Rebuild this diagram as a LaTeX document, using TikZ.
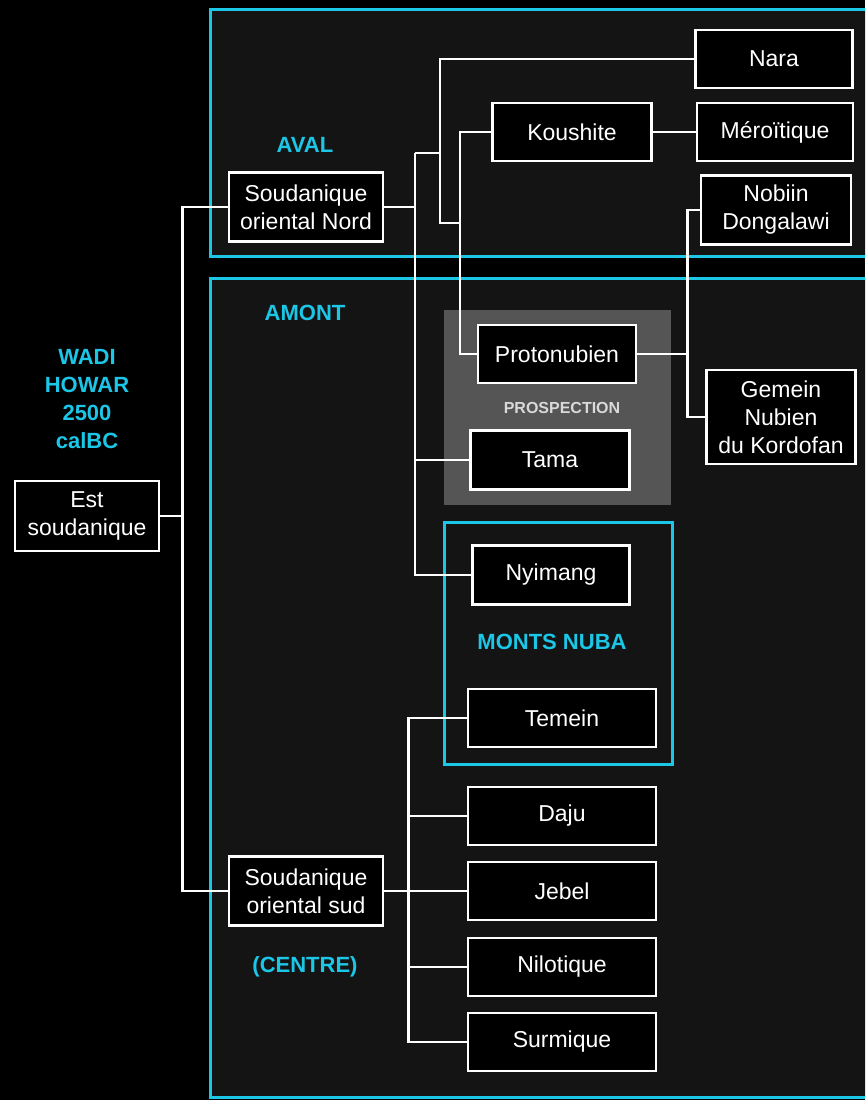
\documentclass[tikz,border=0pt]{standalone}
\usepackage{fontspec}
\setmainfont{Liberation Sans}
\usetikzlibrary{positioning}
\definecolor{nubacyan}{HTML}{1CC6E6}
\definecolor{panelgray}{HTML}{141414}
\definecolor{prospgray}{HTML}{555555}

\begin{document}
\begin{tikzpicture}[
  x=1pt, y=-1pt,
  lang/.style={draw=white, fill=black, text=white, line width=2.8pt, align=center, inner sep=2pt, font=\fontsize{23}{28}\selectfont},
  link/.style={draw=white, line width=2.8pt},
  zone/.style={draw=nubacyan, fill=panelgray, line width=3pt},
  tag/.style={text=nubacyan, align=center, font=\bfseries\fontsize{22}{28}\selectfont}
]
  \useasboundingbox (0,0) rectangle (865,1100);
  \clip (0,0) rectangle (865,1100);
  \fill[black] (0,0) rectangle (865,1100);

  \draw[zone] (210,9) rectangle (890,256);
  \draw[zone] (210,278) rectangle (890,1097);
  \fill[prospgray] (444,310) rectangle (671,505);
  \draw[zone] (444,522) rectangle (672,764);

  \node[tag] (aval) at (305,145) {AVAL};
  \node[tag] (amont) at (305,313) {AMONT};
  \node[tag] (centre) at (305,967) {(CENTRE)};
  \node[tag] (wadi) at (87,399) {WADI\\HOWAR\\2500\\calBC};
  \node[tag] (nuba) at (552,642) {MONTS NUBA};
  \node[text=white!85!black, font=\bfseries\fontsize{16}{20}\selectfont] (prosp) at (562,408) {PROSPECTION};

  \node[lang, minimum width=144, minimum height=70] (est) at (87,516) {Est\\soudanique};
  \node[lang, minimum width=154, minimum height=69] (son) at (306,207) {Soudanique\\oriental Nord};
  \node[lang, minimum width=154, minimum height=69] (sos) at (306,891) {Soudanique\\oriental sud};
  \node[lang, minimum width=157, minimum height=58] (nara) at (774,59) {Nara};
  \node[lang, minimum width=159, minimum height=58] (kou) at (572,132) {Koushite};
  \node[lang, minimum width=156, minimum height=58] (mero) at (775,132) {Méroïtique};
  \node[lang, minimum width=150, minimum height=69] (nobiin) at (776,210) {Nobiin\\Dongalawi};
  \node[lang, minimum width=158, minimum height=58] (proto) at (557,354) {Protonubien};
  \node[lang, minimum width=149, minimum height=94] (gemein) at (781,417) {Gemein\\Nubien\\du Kordofan};
  \node[lang, minimum width=159, minimum height=59] (tama) at (550,460) {Tama};
  \node[lang, minimum width=157, minimum height=59] (nyimang) at (551,575) {Nyimang};
  \node[lang, minimum width=188, minimum height=58] (temein) at (562,718) {Temein};
  \node[lang, minimum width=188, minimum height=58] (daju) at (562,816) {Daju};
  \node[lang, minimum width=188, minimum height=58] (jebel) at (562,891) {Jebel};
  \node[lang, minimum width=188, minimum height=58] (nilo) at (562,967) {Nilotique};
  \node[lang, minimum width=188, minimum height=58] (surm) at (562,1042) {Surmique};

  \draw[link] (est.east) -- ++(22,0) coordinate (estfork);
  \draw[link] (son.west) -| (estfork) |- (sos.west);

  \draw[link] (son.east) -- ++(32,0) coordinate (sonfork);
  \coordinate (nordtop) at (415,153);
  \draw[link] (nordtop) |- (nyimang.west);
  \draw[link] (nordtop |- tama.west) -- (tama.west);
  \draw[link] (nordtop) -- ++(25,0) coordinate (nubfork);
  \coordinate (nubend) at (460,223);
  \draw[link] (nara.west) -| (nubfork) |- (nubend);
  \draw[link] (kou.west) -| (nubend) |- (proto.west);
  \draw[link] (kou) -- (mero);

  \draw[link] (proto.east) -- ++(50,0) coordinate (protofork);
  \draw[link] (nobiin.west) -| (protofork) |- (gemein.west);

  \draw[link] (sos.east) -- ++(24,0) coordinate (sudfork);
  \draw[link] (temein.west) -| (sudfork) |- (surm.west);
  \foreach \n in {daju,jebel,nilo}
    \draw[link] (sudfork |- \n.west) -- (\n.west);
\end{tikzpicture}
\end{document}
